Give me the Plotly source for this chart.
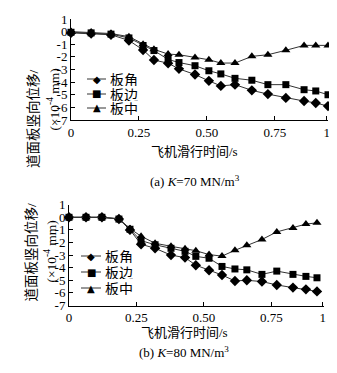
import plotly.graph_objects as go

# ---- data ----
time_a = [0, 0.074, 0.147, 0.213, 0.265, 0.305, 0.357, 0.397, 0.456, 0.507, 0.551, 0.603, 0.665, 0.724, 0.79, 0.857, 0.9, 0.945]
corner_a = [-0.1, -0.15, -0.25, -0.7, -1.45, -2.25, -2.5, -2.95, -3.4, -3.9, -4.3, -4.2, -4.65, -4.95, -5.25, -5.5, -5.65, -5.9]
edge_a = [-0.05, -0.1, -0.2, -0.5, -1.1, -1.5, -2.2, -2.45, -2.7, -3.1, -3.35, -3.7, -3.85, -4.2, -4.2, -4.6, -4.7, -5.0]
middle_a = [0, -0.05, -0.15, -0.4, -1.0, -1.4, -1.78, -1.83, -2.04, -2.23, -2.49, -2.49, -1.96, -1.83, -1.48, -1.09, -1.09, -1.09]

time_b = [0, 0.063, 0.122, 0.185, 0.226, 0.267, 0.319, 0.378, 0.43, 0.47, 0.519, 0.567, 0.615, 0.659, 0.715, 0.77, 0.83, 0.878, 0.919]
corner_b = [0, 0, 0, -0.14, -1.0, -2.14, -2.46, -3.0, -3.2, -3.8, -4.2, -4.58, -5.05, -5.0, -5.1, -5.37, -5.58, -5.72, -5.88]
edge_b = [0, 0, 0, -0.14, -0.95, -1.85, -2.18, -2.46, -2.7, -3.1, -3.25, -3.9, -4.1, -4.17, -4.53, -4.27, -4.53, -4.69, -4.8]
middle_b = [0, 0, 0, -0.1, -0.9, -1.5, -2.06, -2.3, -2.5, -2.65, -2.96, -3.08, -2.62, -2.22, -1.76, -1.16, -0.84, -0.54, -0.44]

series_names = ["板角", "板边", "板中"]
legend_glyphs = ["◆", "■", "▲"]
x_tickvals = [0, 0.25, 0.5, 0.75, 0.94]
x_ticktext = ["0", "0.25", "0.50", "0.75", "1"]
y_tickvals = [1, 0, -1, -2, -3, -4, -5, -6, -7]
y_ticktext = ["1", "0", "-1", "-2", "-3", "-4", "-5", "-6", "-7"]

FONT = "Liberation Serif, Noto Sans CJK SC"
CJK = "Noto Sans CJK SC"
symbols = ["diamond", "square", "triangle-up"]
sizes = [8, 7, 8]
LINE_COLOR = "#333333"

fig = go.Figure()
for (t, ys, xa, ya) in [
    (time_a, [corner_a, edge_a, middle_a], "x", "y"),
    (time_b, [corner_b, edge_b, middle_b], "x2", "y2"),
]:
    for name, yv, sym, sz in zip(series_names, ys, symbols, sizes):
        fig.add_trace(go.Scatter(
            x=t, y=yv, name=name, mode="lines+markers",
            line=dict(color=LINE_COLOR, width=1),
            marker=dict(symbol=sym, size=sz, color="black"),
            xaxis=xa, yaxis=ya, cliponaxis=False, showlegend=False,
        ))

W, H = 337, 373
def px(v): return v / W
def py(v): return 1 - v / H

axis_common = dict(showgrid=False, zeroline=False, showline=True, linecolor="black",
                   linewidth=1, ticks="inside", ticklen=4, tickcolor="black",
                   automargin=False,
                   tickfont=dict(family=FONT, size=13, color="black"))

fig.update_layout(
    template="none",
    width=W, height=H, margin=dict(l=0, r=0, t=0, b=0, pad=0),
    paper_bgcolor="white", plot_bgcolor="white",
    font=dict(family=FONT, color="black"),
    xaxis=dict(domain=[px(63), px(320)], range=[0, 0.945], anchor="y",
               tickvals=x_tickvals, ticktext=x_ticktext, **axis_common),
    yaxis=dict(domain=[py(112), py(11)], range=[-7, 1], anchor="x",
               tickvals=y_tickvals, ticktext=y_ticktext, **axis_common),
    xaxis2=dict(domain=[px(61), px(316)], range=[0, 0.945], anchor="y2",
                tickvals=x_tickvals, ticktext=x_ticktext, **axis_common),
    yaxis2=dict(domain=[py(297.5), py(196.7)], range=[-7, 1], anchor="x2",
                tickvals=y_tickvals, ticktext=y_ticktext, **axis_common),
    showlegend=False,
)

ann = []
shapes = []
# y axis titles
for (x1, x2, yc) in [(17, 36, 60), (14, 33, 244)]:
    ann.append(dict(text="道面板竖向位移/", x=px(x1), y=py(yc), xref="paper", yref="paper",
                    textangle=-90, showarrow=False, font=dict(family=FONT, size=13.5),
                    borderpad=0))
    ann.append(dict(text="(×10<sup>-4</sup> mm)", x=px(x2), y=py(yc), xref="paper", yref="paper",
                    textangle=-90, showarrow=False, font=dict(family=FONT, size=13.5),
                    borderpad=0))
# x axis titles and captions
for (xc, yt, yc, cap) in [(187, 143, 173, "(a) <i>K</i>=70 MN/m<sup>3</sup>"),
                          (176, 333, 353, "(b) <i>K</i>=80 MN/m<sup>3</sup>")]:
    ann.append(dict(text="飞机滑行时间/s", x=px(xc), y=py(yt), xref="paper", yref="paper",
                    showarrow=False, font=dict(family=FONT, size=13), borderpad=0))
    ann.append(dict(text=cap, x=px(xc), y=py(yc), xref="paper", yref="paper",
                    showarrow=False, font=dict(family=FONT, size=13), borderpad=0))

# manual legends: (line start, line end, text left, row centres)
for (l0, l1, tx, rows) in [(79, 98, 101, [71, 86, 100]), (73, 93, 96, [248, 264, 280])]:
    for name, glyph, yr in zip(series_names, legend_glyphs, rows):
        shapes.append(dict(type="line", xref="paper", yref="paper",
                           x0=px(l0), x1=px(l1), y0=py(yr), y1=py(yr),
                           line=dict(color=LINE_COLOR, width=1)))
        ann.append(dict(text=glyph, x=px((l0 + l1) / 2), y=py(yr), xref="paper", yref="paper",
                        showarrow=False, font=dict(family="DejaVu Sans", size=10, color="black"),
                        xanchor="center", yanchor="middle", borderpad=0))
        ann.append(dict(text=name, x=px(tx), y=py(yr), xref="paper", yref="paper",
                        showarrow=False, font=dict(family=CJK, size=14, color="black"),
                        xanchor="left", yanchor="middle", borderpad=0, height=14))
fig.update_layout(annotations=ann, shapes=shapes)

fig.write_html("out.html")
